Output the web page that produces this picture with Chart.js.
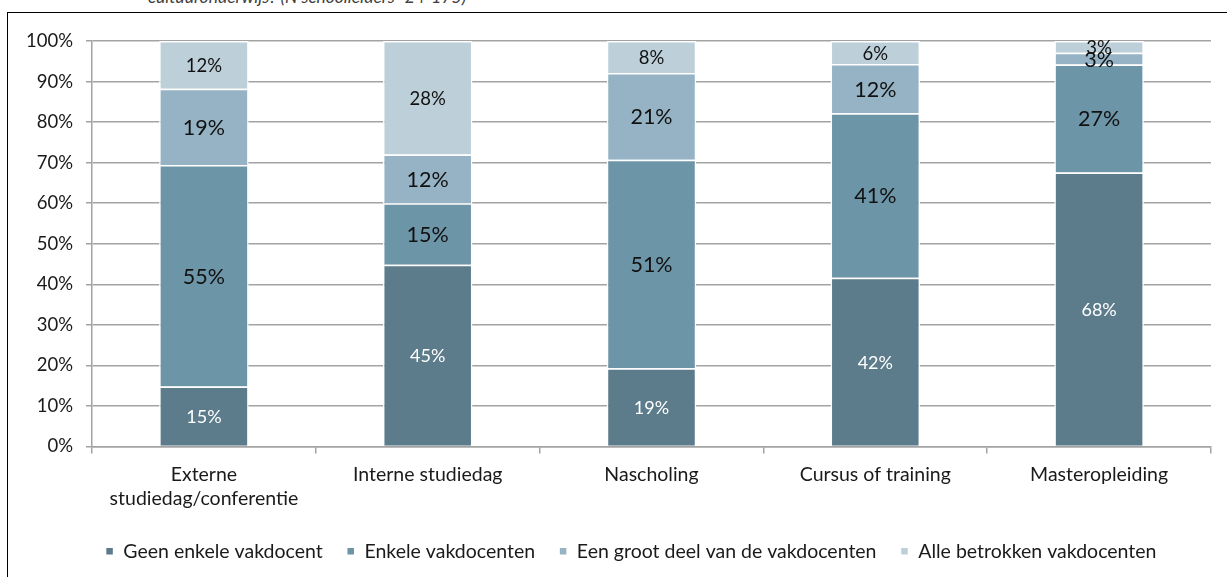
<!DOCTYPE html>
<html>
<head>
<meta charset="utf-8">
<script src="https://cdn.jsdelivr.net/npm/chart.js@4.4.1/dist/chart.umd.min.js"></script>
<style>
  html, body { margin: 0; padding: 0; background: #fff; overflow: hidden; }
  body { width: 1227px; height: 577px; position: relative; font-family: Lato, sans-serif; }
  .caption {
    position: absolute; left: 148px; top: -14px;
    font-size: 17.5px; font-style: italic; color: #404040; white-space: nowrap;
  }
  .frame {
    position: absolute; left: 7px; top: 12px; width: 1300px; height: 600px;
    border-left: 1.5px solid #000; border-top: 1.5px solid #000;
  }
  .wrap { position: absolute; left: 9px; top: 14px; width: 1218px; height: 563px; }
</style>
</head>
<body>
<div class="caption">cultuuronderwijs? (N schoolleiders=24-175)</div>
<div class="frame"></div>
<div class="wrap"><canvas id="chart"></canvas></div>
<script>
const categories = [
  ['Externe', 'studiedag/conferentie'],
  'Interne studiedag',
  'Nascholing',
  'Cursus of training',
  'Masteropleiding'
];
const seriesNames = ['Geen enkele vakdocent', 'Enkele vakdocenten', 'Een groot deel van de vakdocenten', 'Alle betrokken vakdocenten'];
const geenEnkele = [14.8, 44.8, 19.3, 41.6, 67.6];
const enkele = [54.6, 15.2, 51.4, 40.6, 26.6];
const grootDeel = [18.8, 12.0, 21.4, 12.1, 2.9];
const alle = [11.8, 28.0, 7.9, 5.7, 2.9];
const yTicks = [0, 10, 20, 30, 40, 50, 60, 70, 80, 90, 100];

const colors = ['#5c7b8b', '#6d95a8', '#95b3c4', '#bdd0da'];
const labelColors = ['#ffffff', '#111111', '#111111', '#111111'];
const labelSizes = [18, 21.5, 21.5, 18.5];

const gridGray = '#a3a3a3';
const font = 'Lato';

// value labels in the middle of each segment
const segmentLabels = {
  id: 'segmentLabels',
  afterDatasetsDraw(chart) {
    const {ctx} = chart;
    ctx.save();
    ctx.textAlign = 'center';
    ctx.textBaseline = 'middle';
    chart.data.datasets.forEach((ds, i) => {
      const meta = chart.getDatasetMeta(i);
      ctx.fillStyle = labelColors[i];
      ctx.font = labelSizes[i] + 'px ' + font;
      meta.data.forEach((bar, j) => {
        const {x, y, base} = bar.getProps(['x', 'y', 'base'], true);
        ctx.fillText(Math.round(ds.data[j]) + '%', x, (y + base) / 2 + 1);
      });
    });
    ctx.restore();
  }
};

// nudge the legend row a little to the right of the canvas centre
const legendShift = {
  id: 'legendShift',
  afterLayout(chart) {
    chart.legend.left += 21;
    chart.legend.right += 21;
  }
};

const series = [geenEnkele, enkele, grootDeel, alle];

new Chart(document.getElementById('chart'), {
  type: 'bar',
  data: {
    labels: categories,
    datasets: series.map((vals, i) => ({
      label: seriesNames[i],
      data: vals,
      backgroundColor: colors[i],
      borderColor: '#ffffff',
      borderWidth: 1.5,
      categoryPercentage: 0.4,
      barPercentage: 1
    }))
  },
  options: {
    responsive: true,
    maintainAspectRatio: false,
    animation: false,
    layout: { autoPadding: false, padding: { top: 27, right: 16, left: 0, bottom: 6 } },
    scales: {
      x: {
        stacked: true,
        grid: { display: true, drawOnChartArea: false, color: gridGray, lineWidth: 1.5, tickLength: 7, offset: true },
        border: { color: gridGray, width: 1.5 },
        ticks: { color: '#1a1a1a', font: { family: font, size: 19.5, lineHeight: 1.25 }, padding: 9, maxRotation: 0 },
        afterFit(s) { s.height = 71; }
      },
      y: {
        stacked: true,
        min: 0,
        max: 100,
        afterBuildTicks(s) { s.ticks = yTicks.map(v => ({value: v})); },
        grid: { color: gridGray, lineWidth: 1.5, tickLength: 6 },
        border: { color: gridGray, width: 1.5 },
        ticks: { color: '#1a1a1a', font: { family: font, size: 18.5 }, padding: 13, callback: v => v + '%' },
        afterFit(s) { s.width = 83; }
      }
    },
    plugins: {
      tooltip: { enabled: false },
      legend: {
        position: 'bottom',
        labels: { boxWidth: 8, boxHeight: 8, color: '#1a1a1a', font: { family: font, size: 19.5 }, padding: 24 }
      }
    }
  },
  plugins: [segmentLabels, legendShift]
});
</script>
</body>
</html>
